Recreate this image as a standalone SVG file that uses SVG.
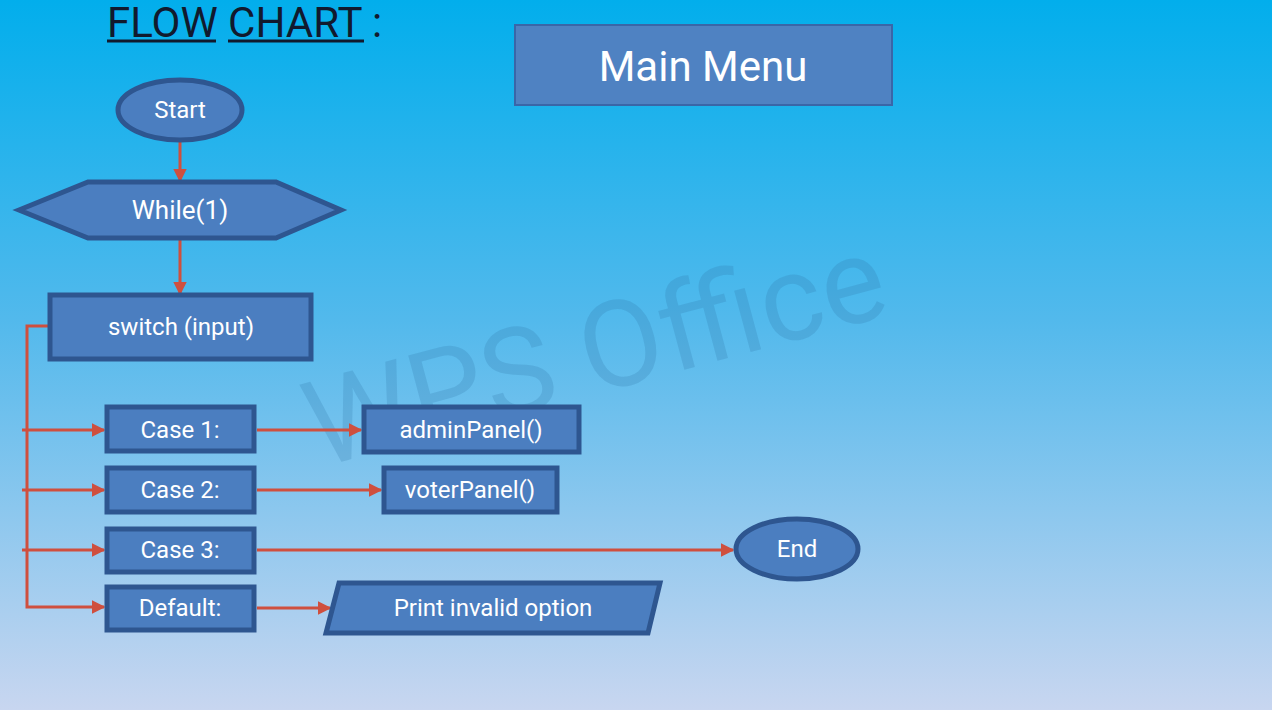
<svg xmlns="http://www.w3.org/2000/svg" width="1272" height="710" viewBox="0 0 1272 710">
<defs>
<linearGradient id="bg" x1="0" y1="0" x2="0" y2="1">
<stop offset="0" stop-color="#02aeec"/>
<stop offset="0.45" stop-color="#52b9ec"/>
<stop offset="1" stop-color="#c8d6f0"/>
</linearGradient>
<marker id="arr" viewBox="0 0 10 10" refX="9" refY="5" markerWidth="4.5" markerHeight="4.5" orient="auto" markerUnits="strokeWidth">
<path d="M0,0 L10,5 L0,10 Z" fill="#cf4f3e"/>
</marker>
<style>
.node{fill:#4b7ec0;stroke:#2e5690;stroke-width:5}
.lbl{font-family:Roboto,"Liberation Sans",sans-serif;fill:#ffffff;text-anchor:middle;dominant-baseline:central;font-size:24px}
.con{fill:none;stroke:#cf4f3e;stroke-width:3}
</style>
</defs>
<rect x="0" y="0" width="1272" height="710" fill="url(#bg)"/>
<text x="0" y="0" transform="translate(318,468) rotate(-15)" font-family="Roboto,'Liberation Sans',sans-serif" font-size="120" fill="#2f74a6" fill-opacity="0.22">WPS Office</text>
<g id="title">
<text x="107" y="37" font-family="Roboto,'Liberation Sans',sans-serif" font-size="42" fill="#111a2e">FLOW CHART :</text>
<line x1="107" y1="41" x2="216" y2="41" stroke="#111a2e" stroke-width="3"/>
<line x1="228" y1="41" x2="364" y2="41" stroke="#111a2e" stroke-width="3"/>
</g>
<g id="mainmenu">
<rect x="515" y="25" width="377" height="80" fill="#4f82c2" stroke="#3a66a8" stroke-width="2"/>
<text class="lbl" x="703" y="66" style="font-size:42px">Main Menu</text>
</g>
<g id="connectors">
<line class="con" x1="180" y1="140" x2="180" y2="181" marker-end="url(#arr)"/>
<line class="con" x1="180" y1="238" x2="180" y2="294" marker-end="url(#arr)"/>
<polyline class="con" points="49,326 27,326 27,607 104,607" marker-end="url(#arr)"/>
<line class="con" x1="22" y1="430" x2="104" y2="430" marker-end="url(#arr)"/>
<line class="con" x1="22" y1="490" x2="104" y2="490" marker-end="url(#arr)"/>
<line class="con" x1="22" y1="550" x2="104" y2="550" marker-end="url(#arr)"/>
<line class="con" x1="257" y1="430" x2="361" y2="430" marker-end="url(#arr)"/>
<line class="con" x1="257" y1="490" x2="381" y2="490" marker-end="url(#arr)"/>
<line class="con" x1="257" y1="550" x2="733" y2="550" marker-end="url(#arr)"/>
<line class="con" x1="257" y1="608" x2="330" y2="608" marker-end="url(#arr)"/>
</g>
<g id="start">
<ellipse class="node" cx="180" cy="110" rx="62" ry="30"/>
<text class="lbl" x="180" y="110">Start</text>
</g>
<g id="while">
<polygon class="node" points="19,210 88,182 276,182 341,210 276,238 88,238"/>
<text class="lbl" x="180" y="210" style="font-size:26px">While(1)</text>
</g>
<g id="switch">
<rect class="node" x="50" y="295" width="261" height="64"/>
<text class="lbl" x="181" y="327">switch (input)</text>
</g>
<g id="case1">
<rect class="node" x="107" y="407" width="147" height="44"/>
<text class="lbl" x="180" y="430">Case 1:</text>
</g>
<g id="adminPanel">
<rect class="node" x="364" y="407" width="215" height="45"/>
<text class="lbl" x="471" y="430">adminPanel()</text>
</g>
<g id="case2">
<rect class="node" x="107" y="468" width="147" height="44"/>
<text class="lbl" x="180" y="490">Case 2:</text>
</g>
<g id="voterPanel">
<rect class="node" x="384" y="468" width="173" height="44"/>
<text class="lbl" x="470" y="490">voterPanel()</text>
</g>
<g id="case3">
<rect class="node" x="107" y="529" width="147" height="43"/>
<text class="lbl" x="180" y="550">Case 3:</text>
</g>
<g id="end">
<ellipse class="node" cx="797" cy="549" rx="61" ry="30"/>
<text class="lbl" x="797" y="549">End</text>
</g>
<g id="default">
<rect class="node" x="107" y="587" width="147" height="43"/>
<text class="lbl" x="180" y="608">Default:</text>
</g>
<g id="print">
<polygon class="node" points="339,583 660,583 648,633 326,633"/>
<text class="lbl" x="493" y="608">Print invalid option</text>
</g>
</svg>
